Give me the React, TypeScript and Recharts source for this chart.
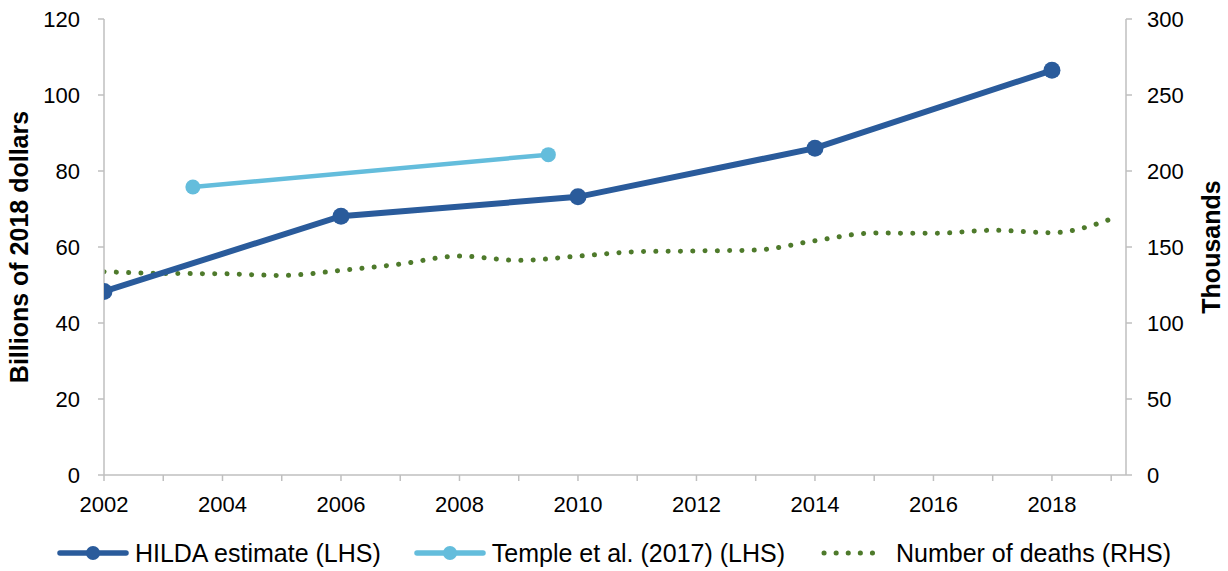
import React from 'react'
import { LineChart, Line, XAxis, YAxis, Legend } from 'recharts'

// HILDA estimate (LHS), billions of 2018 dollars
const hildaYears = [2002, 2006, 2010, 2014, 2018]
const hildaValues = [48.3, 68.1, 73.2, 86.0, 106.5]

// Temple et al. (2017) (LHS)
const templeYears = [2003.5, 2009.5]
const templeValues = [75.8, 84.3]

// Number of deaths (RHS), thousands
const deathYears = [2002, 2003, 2004, 2005, 2006, 2007, 2008, 2009, 2010, 2011, 2012, 2013, 2014, 2015, 2016, 2017, 2018, 2019]
const deathValues = [133.8, 132.6, 132.4, 131.3, 134.6, 138.8, 144.0, 141.2, 144.0, 146.9, 147.4, 148.0, 154.1, 159.2, 159.0, 161.0, 159.4, 168.4]

const yearTicks = [2002, 2003, 2004, 2005, 2006, 2007, 2008, 2009, 2010, 2011, 2012, 2013, 2014, 2015, 2016, 2017, 2018, 2019]
const leftTicks = [0, 20, 40, 60, 80, 100, 120]
const rightTicks = [0, 50, 100, 150, 200, 250, 300]

const leftTitle = 'Billions of 2018 dollars'
const rightTitle = 'Thousands'

const legendItems = [
  { name: 'HILDA estimate (LHS)', color: '#2A5B9B', kind: 'marker' },
  { name: 'Temple et al. (2017) (LHS)', color: '#64BDDC', kind: 'marker' },
  { name: 'Number of deaths (RHS)', color: '#4E7A2B', kind: 'dots' }
]

const hilda = hildaYears.map((year, i) => ({ year, value: hildaValues[i] }))
const temple = templeYears.map((year, i) => ({ year, value: templeValues[i] }))
const deaths = deathYears.map((year, i) => ({ year, value: deathValues[i] }))

const FONT = '"Liberation Sans", Arial, sans-serif'
const AXIS = '#BFBFBF'

const LeftTitle = (props: any) => {
  const { viewBox } = props
  const cy = viewBox.y + viewBox.height / 2
  return (
    <text x={28} y={cy} transform={`rotate(-90 28 ${cy})`} textAnchor="middle"
      fontFamily={FONT} fontSize={25} fontWeight="bold" fill="#000">
      {leftTitle}
    </text>
  )
}

const RightTitle = (props: any) => {
  const { viewBox } = props
  const cy = viewBox.y + viewBox.height / 2
  return (
    <text x={1220} y={cy} transform={`rotate(-90 1220 ${cy})`} textAnchor="middle"
      fontFamily={FONT} fontSize={25} fontWeight="bold" fill="#000">
      {rightTitle}
    </text>
  )
}

const LegendContent = () => (
  <div style={{ display: 'flex', justifyContent: 'center', alignItems: 'center', height: 36, fontFamily: FONT, fontSize: 25, color: '#000' }}>
    {legendItems.map((item, i) => (
      <div key={item.name} style={{ display: 'flex', alignItems: 'center', marginLeft: i === 0 ? 0 : 33 }}>
        <svg width={72} height={20} style={{ marginRight: 6 }}>
          {item.kind === 'marker' ? (
            <>
              <line x1={3} y1={10} x2={69} y2={10} stroke={item.color} strokeWidth={5.5} strokeLinecap="round" />
              <circle cx={36} cy={10} r={7} fill={item.color} />
            </>
          ) : (
            <line x1={6} y1={10} x2={66} y2={10} stroke={item.color} strokeWidth={5} strokeLinecap="round" strokeDasharray="0.1 12" />
          )}
        </svg>
        <span>{item.name}</span>
      </div>
    ))}
  </div>
)

export default function App() {
  return (
    <div style={{ position: 'absolute', left: 0, top: 0, background: '#fff' }}>
      <LineChart width={1228} height={571} margin={{ top: 19, right: 0, bottom: 0, left: 0 }}>
        <XAxis
          dataKey="year"
          type="number"
          domain={[2002, 2019.25]}
          ticks={yearTicks}
          allowDataOverflow
          interval={0}
          tickFormatter={(v: number) => (v % 2 === 0 ? String(v) : '')}
          stroke={AXIS}
          strokeWidth={1.5}
          tickSize={6}
          tickMargin={15}
          height={60}
          tick={{ fill: '#000', fontSize: 22, fontFamily: FONT }}
        />
        <YAxis
          yAxisId="left"
          domain={[0, 120]}
          ticks={leftTicks}
          width={104}
          stroke={AXIS}
          strokeWidth={1.5}
          tickSize={6}
          tickMargin={18}
          tick={{ fill: '#000', fontSize: 22, fontFamily: FONT }}
          label={<LeftTitle />}
        />
        <YAxis
          yAxisId="right"
          orientation="right"
          domain={[0, 300]}
          ticks={rightTicks}
          width={102}
          stroke={AXIS}
          strokeWidth={1.5}
          tickSize={6}
          tickMargin={15}
          tick={{ fill: '#000', fontSize: 22, fontFamily: FONT }}
          label={<RightTitle />}
        />
        <Legend verticalAlign="bottom" content={<LegendContent />} />
        <Line
          yAxisId="right"
          data={deaths}
          dataKey="value"
          type="monotone"
          stroke="#4E7A2B"
          strokeWidth={5}
          strokeLinecap="round"
          strokeDasharray="0.1 12.2"
          dot={false}
          isAnimationActive={false}
        />
        <Line
          yAxisId="left"
          data={temple}
          dataKey="value"
          stroke="#64BDDC"
          strokeWidth={4.5}
          dot={{ r: 7.5, fill: '#64BDDC', stroke: '#64BDDC', strokeWidth: 0 }}
          isAnimationActive={false}
        />
        <Line
          yAxisId="left"
          data={hilda}
          dataKey="value"
          stroke="#2A5B9B"
          strokeWidth={6}
          dot={{ r: 8.5, fill: '#2A5B9B', stroke: '#2A5B9B', strokeWidth: 0 }}
          isAnimationActive={false}
        />
      </LineChart>
    </div>
  )
}
